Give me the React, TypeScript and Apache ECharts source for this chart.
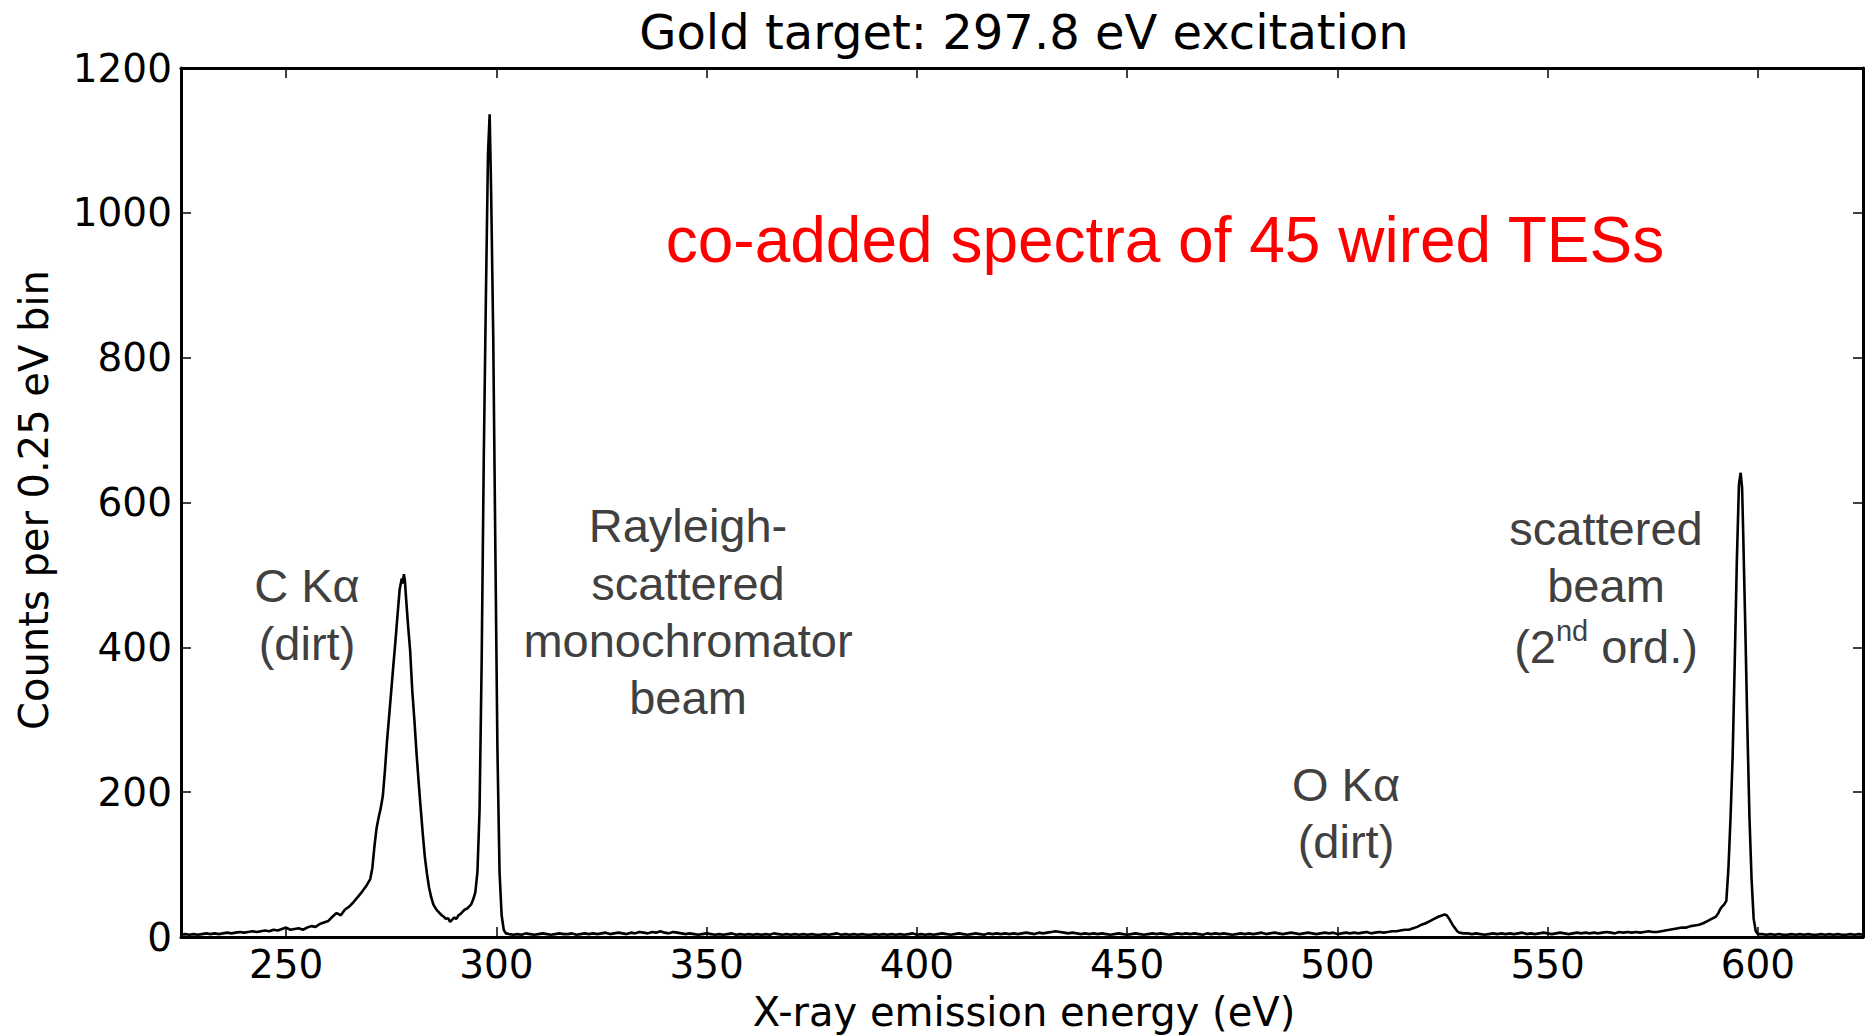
import React, { useEffect, useRef } from "react";
import * as echarts from "echarts";

// ---- Data (X-ray emission energy in eV, counts per 0.25 eV bin) ----
const xTickValues = [250, 300, 350, 400, 450, 500, 550, 600];
const yTickInterval = 200;

// uniform 1 eV baseline segments: start energy + counts
const lowBaselineStart = 225;
const lowBaselineCounts = [
  3, 4, 3, 4, 3, 4, 5, 4, 5, 4, 5, 6, 5, 6, 7, 6, 7, 8, 7, 8, 9, 8, 10, 9, 11, 13, 10, 11, 12, 10,
];

// C K-alpha (dirt) and the valley up to the Rayleigh peak
const cKaEnergy = [
  255, 256, 257, 258, 259, 260, 261, 262, 263, 264, 265, 266, 267, 268, 269, 270, 270.5, 271, 271.5,
  272, 272.5, 273, 273.5, 274, 274.5, 275, 275.5, 276, 276.5, 277, 277.5, 277.75, 278, 278.25, 278.5,
  279, 279.5, 280, 280.5, 281, 281.5, 282, 282.5, 283, 283.5, 284, 284.5, 285, 285.5, 286, 286.5, 287,
  287.5, 288, 288.5, 289, 289.5, 290, 290.5, 291, 291.5, 292, 292.5, 293, 293.5, 294, 294.5, 295,
];
const cKaCounts = [
  13, 15, 14, 18, 20, 22, 28, 33, 30, 38, 42, 48, 55, 62, 70, 80, 95, 125, 150,
  165, 178, 195, 230, 271, 305, 340, 375, 409, 445, 480, 495, 488, 501, 492, 470,
  430, 395, 340, 300, 255, 215, 178, 142, 110, 87, 68, 55, 45, 40, 36, 33, 30,
  28, 25, 26, 21, 24, 27, 25, 30, 32, 35, 38, 39, 42, 45, 52, 62,
];

// Rayleigh-scattered monochromator beam
const rayleighEnergy = [
  295.5, 296, 296.5, 297, 297.5, 298, 298.4, 298.75, 299.25, 299.75, 300.25, 300.75, 301.25, 301.75, 302.25,
];
const rayleighCounts = [90, 175, 380, 660, 880, 1080, 1136, 1030, 830, 540, 260, 90, 30, 10, 5];

const midBaselineStart = 303;
const midBaselineCounts = [
  4, 3, 4, 3, 5, 4, 3, 4, 5, 4,
  3, 4, 5, 4, 4, 5, 3, 4, 5, 4,
  5, 4, 5, 6, 4, 5, 6, 5, 4, 6,
  5, 7, 6, 5, 7, 6, 8, 6, 5, 7,
  6, 5, 4, 5, 4, 3, 4, 5, 4, 3,
  4, 3, 4, 5, 3, 4, 3, 4, 3, 4,
  3, 4, 3, 5, 4, 3, 4, 3, 4, 3,
  4, 3, 4, 3, 3, 4, 3, 4, 5, 3,
  4, 3, 4, 3, 4, 3, 3, 4, 3, 4,
  3, 4, 3, 4, 3, 4, 5, 3, 4, 3,
  4, 3, 4, 5, 4, 3, 4, 5, 4, 3,
  4, 5, 4, 3, 5, 4, 5, 4, 5, 4,
  5, 4, 5, 6, 5, 4, 6, 5, 6, 7,
  8, 7, 6, 5, 6, 5, 4, 5, 4, 5,
  4, 5, 4, 3, 4, 5, 4, 3, 4, 5,
  4, 3, 4, 5, 4, 5, 4, 3, 4, 5,
  4, 5, 4, 5, 4, 3, 5, 4, 5, 4,
  5, 4, 3, 4, 5, 4, 5, 4, 5, 6,
  4, 5, 6, 5, 4, 5, 6, 5, 4, 5,
  6, 5, 4, 5, 6, 5, 6, 4, 5, 6,
  5, 6, 5, 6, 7, 5, 6, 7,
];

// O K-alpha (dirt)
const oKaEnergy = [511, 512, 513, 514, 515, 516, 517, 518, 519, 520, 521, 522, 523, 524, 525, 525.5, 526, 526.5, 527, 527.5, 528, 528.5, 529, 530];
const oKaCounts = [6, 7, 8, 8, 9, 10, 10, 12, 14, 17, 19, 22, 25, 28, 30, 31, 30, 26, 21, 16, 12, 8, 6, 5];

const highBaselineStart = 531;
const highBaselineCounts = [
  5, 4, 5, 4, 3, 4, 5, 4, 5, 4,
  5, 4, 5, 6, 4, 5, 4, 5, 6, 5,
  4, 5, 6, 5, 4, 5, 6, 5, 6, 5,
  6, 5, 6, 7, 6, 5, 7, 6, 7, 6,
  7, 6, 7, 8, 7,
];

// scattered beam, 2nd order
const secondOrderEnergy = [
  576, 577, 578, 579, 580, 581, 582, 583, 584, 585, 586, 587, 588, 589, 590, 590.5, 591, 591.5, 592,
  592.5, 593, 593.5, 594, 594.5, 595, 595.5, 595.9, 596.25, 596.5, 597, 597.5, 598, 598.5, 599, 599.5, 600,
];
const secondOrderCounts = [
  7, 8, 9, 10, 11, 12, 13, 13, 15, 16, 17, 19, 22, 25, 28, 32, 38, 42, 45,
  50, 95, 165, 250, 380, 520, 625, 641, 620, 560, 430, 290, 165, 80, 25, 8, 4,
];

const tailBaselineStart = 601;
const tailBaselineCounts = [4, 3, 4, 3, 4, 3, 3, 4, 3, 4, 3, 4, 3, 3, 4, 3, 4, 3, 4, 3, 3, 4, 3, 4, 3];

// ---- build table ----
function uniform(start: number, counts: number[]): [number, number][] {
  return counts.map((c, i) => [start + i, c]);
}
function paired(e: number[], c: number[]): [number, number][] {
  return e.map((v, i) => [v, c[i]]);
}
const spectrum: [number, number][] = [
  ...uniform(lowBaselineStart, lowBaselineCounts),
  ...paired(cKaEnergy, cKaCounts),
  ...paired(rayleighEnergy, rayleighCounts),
  ...uniform(midBaselineStart, midBaselineCounts),
  ...paired(oKaEnergy, oKaCounts),
  ...uniform(highBaselineStart, highBaselineCounts),
  ...paired(secondOrderEnergy, secondOrderCounts),
  ...uniform(tailBaselineStart, tailBaselineCounts),
];

const AX_FONT = "DejaVu Sans";
const ANN_FONT = "Liberation Sans, Arial, sans-serif";
const ANN_COLOR = "#404040";

function annText(x: number, y: number, text: string, size = 47, color = ANN_COLOR, family = ANN_FONT) {
  return {
    type: "text",
    x,
    y,
    style: {
      text,
      fontSize: size,
      fontFamily: family,
      fill: color,
      align: "center",
      verticalAlign: "middle",
    },
  };
}

export default function App() {
  const ref = useRef<HTMLDivElement>(null);
  useEffect(() => {
    document.body.style.margin = "0";
    if (!ref.current) return;
    const chart = echarts.init(ref.current, null, { renderer: "svg" });
    const axisLine = { show: true, onZero: false, lineStyle: { color: "#000", width: 3 } };
    const tickStyle = { color: "#000", width: 1.5 };
    chart.setOption({
      animation: false,
      backgroundColor: "#ffffff",
      grid: { left: 181, right: 3, top: 68, bottom: 98, containLabel: false },
      xAxis: [
        {
          type: "value",
          min: 225,
          max: 625,
          position: "bottom",
          axisLine,
          axisTick: { show: true, inside: true, length: 10, lineStyle: tickStyle, customValues: xTickValues },
          axisLabel: {
            show: true,
            customValues: xTickValues,
            fontFamily: AX_FONT,
            fontSize: 39,
            color: "#000",
            margin: 8,
            formatter: (v: number) => String(v),
          },
          splitLine: { show: false },
        },
        {
          type: "value",
          min: 225,
          max: 625,
          position: "top",
          axisLine,
          axisTick: { show: true, inside: true, length: 10, lineStyle: tickStyle, customValues: xTickValues },
          axisLabel: { show: false },
          splitLine: { show: false },
        },
      ],
      yAxis: [
        {
          type: "value",
          min: 0,
          max: 1200,
          interval: yTickInterval,
          position: "left",
          axisLine,
          axisTick: { show: true, inside: true, length: 10, lineStyle: tickStyle },
          axisLabel: {
            fontFamily: AX_FONT,
            fontSize: 39,
            color: "#000",
            margin: 9,
            formatter: (v: number) => String(v),
          },
          splitLine: { show: false },
        },
        {
          type: "value",
          min: 0,
          max: 1200,
          interval: yTickInterval,
          position: "right",
          axisLine,
          axisTick: { show: true, inside: true, length: 10, lineStyle: tickStyle },
          axisLabel: { show: false },
          splitLine: { show: false },
        },
      ],
      series: [
        {
          type: "line",
          data: spectrum,
          xAxisIndex: 0,
          yAxisIndex: 0,
          showSymbol: false,
          symbol: "none",
          lineStyle: { color: "#000", width: 2.6 },
          z: 3,
        },
      ],
      graphic: [
        annText(1024, 32, "Gold target: 297.8 eV excitation", 48, "#000", AX_FONT),
        annText(1024, 1012, "X-ray emission energy (eV)", 40, "#000", AX_FONT),
        {
          type: "text",
          x: 34,
          y: 500,
          rotation: Math.PI / 2,
          style: {
            text: "Counts per 0.25 eV bin",
            fontSize: 40,
            fontFamily: AX_FONT,
            fill: "#000",
            align: "center",
            verticalAlign: "middle",
          },
        },
        annText(1165, 240, "co-added spectra of 45 wired TESs", 64, "#ff0000"),
        annText(307, 585, "C Kα"),
        annText(307, 643, "(dirt)"),
        annText(688, 525, "Rayleigh-"),
        annText(688, 583, "scattered"),
        annText(688, 640, "monochromator"),
        annText(688, 697, "beam"),
        annText(1606, 528, "scattered"),
        annText(1606, 585, "beam"),
        {
          type: "text",
          x: 1606,
          y: 643,
          style: {
            text: "{a|(2}{s|nd}{a| ord.)}",
            fontFamily: ANN_FONT,
            fill: ANN_COLOR,
            align: "center",
            verticalAlign: "middle",
            rich: {
              a: { fontSize: 47, fontFamily: ANN_FONT, fill: ANN_COLOR, lineHeight: 54, verticalAlign: "bottom" },
              s: { fontSize: 29, fontFamily: ANN_FONT, fill: ANN_COLOR, lineHeight: 54, verticalAlign: "top" },
            },
          },
        },
        annText(1346, 784, "O Kα"),
        annText(1346, 841, "(dirt)"),
      ],
    });
    return () => chart.dispose();
  }, []);
  return (
    <div
      ref={ref}
      style={{ width: 1866, height: 1035, position: "absolute", left: 0, top: 0, background: "#fff" }}
    />
  );
}
